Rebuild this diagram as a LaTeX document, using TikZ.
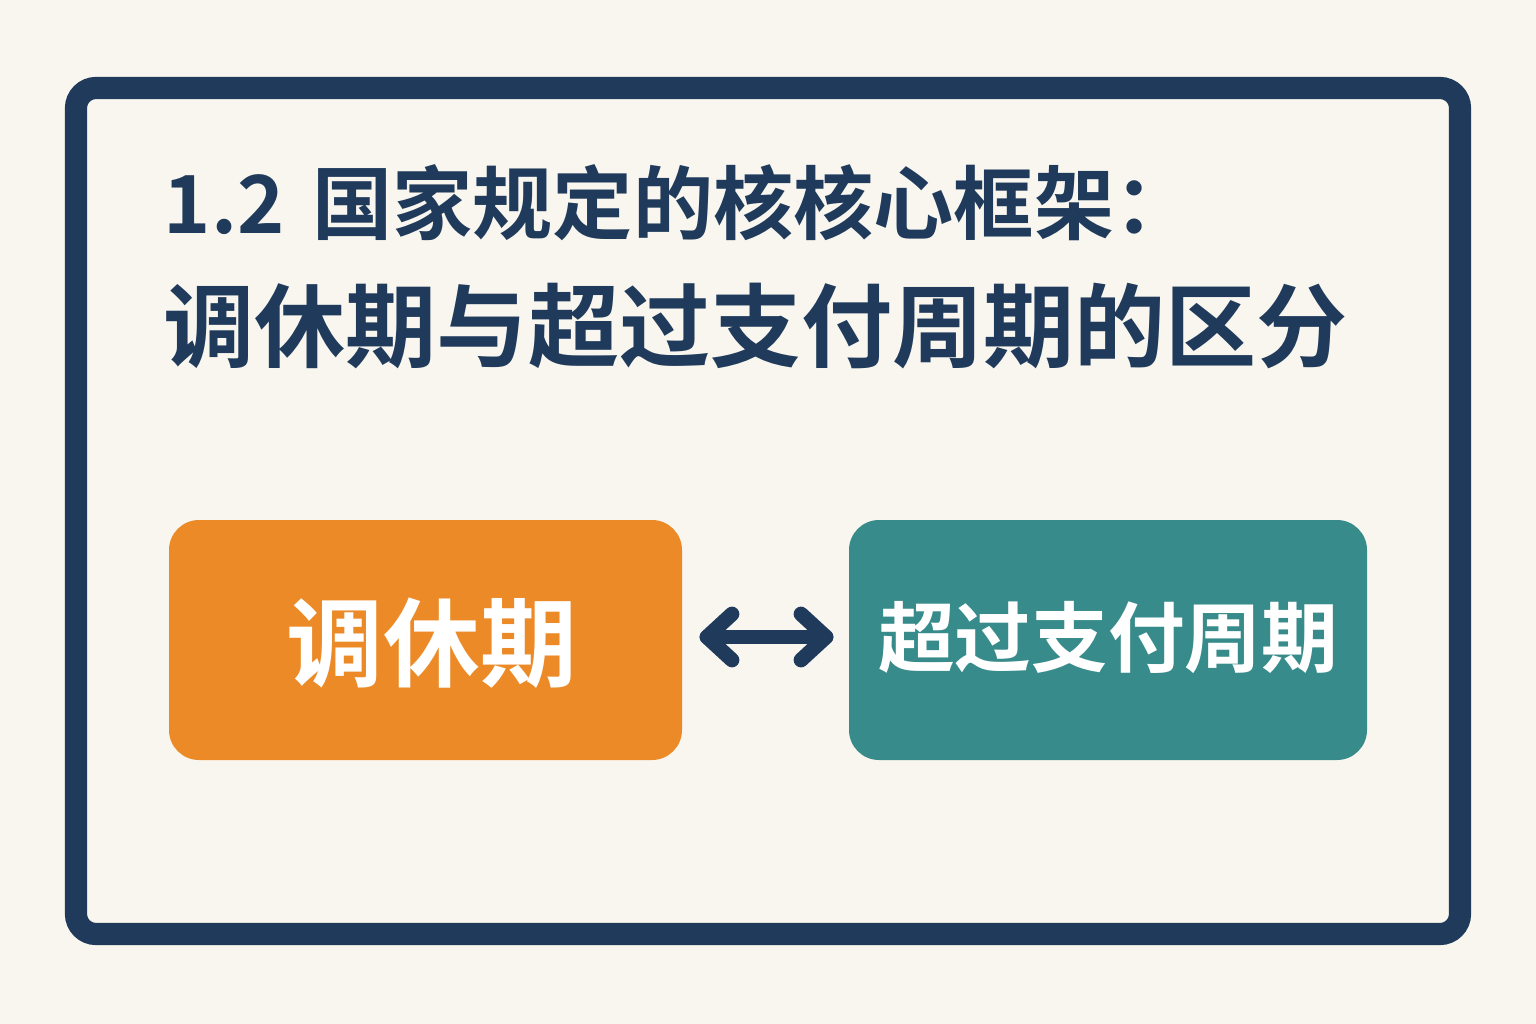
\documentclass[tikz,border=0pt]{standalone}
\usepackage{fontspec}
\newfontfamily\cjk{Noto Sans CJK SC Bold}
\definecolor{bg}{HTML}{F9F6EF}
\definecolor{navy}{HTML}{1F3A5A}
\definecolor{orng}{HTML}{EB8A27}
\definecolor{teal2}{HTML}{378B8A}
\begin{document}
\begin{tikzpicture}[x=0.01cm,y=-0.01cm,
  box/.style={rounded corners=0.3cm,inner sep=0pt},
  boxtext/.style={text=white,font=\cjk\fontsize{#1}{#1}\selectfont},
  title/.style={anchor=base west,inner sep=0pt,text=navy,font=\cjk\fontsize{#1}{#1}\selectfont},
  arrowline/.style={navy,line width=4.2pt,line cap=round,line join=round}]
\fill[bg] (0,0) rectangle (1536,1024);
\useasboundingbox (0,0) rectangle (1536,1024);
\draw[navy,line width=6.3pt,rounded corners=0.2cm] (76,88) rectangle (1460,934);
\node[title=22.8pt] (t1) at (163,233) {1.2\hspace{0.35em}国家规定的核核心框架：};
\node[title=25.9pt] (t2) at (163,360) {调休期与超过支付周期的区分};
\fill[orng,box] (169,520) rectangle (682,760);
\fill[teal2,box] (849,520) rectangle (1367,760);
\node[boxtext=27.5pt] (l) at (432,643) {调休期};
\node[boxtext=21.8pt] (r) at (1108,638) {超过支付周期};
\coordinate (al) at (707,637);
\coordinate (ar) at (826,637);
\draw[arrowline] (al) -- (ar);
\draw[arrowline] ([shift={(25,-23)}]al) -- (al) -- ([shift={(25,23)}]al);
\draw[arrowline] ([shift={(-25,-23)}]ar) -- (ar) -- ([shift={(-25,23)}]ar);
\end{tikzpicture}
\end{document}
